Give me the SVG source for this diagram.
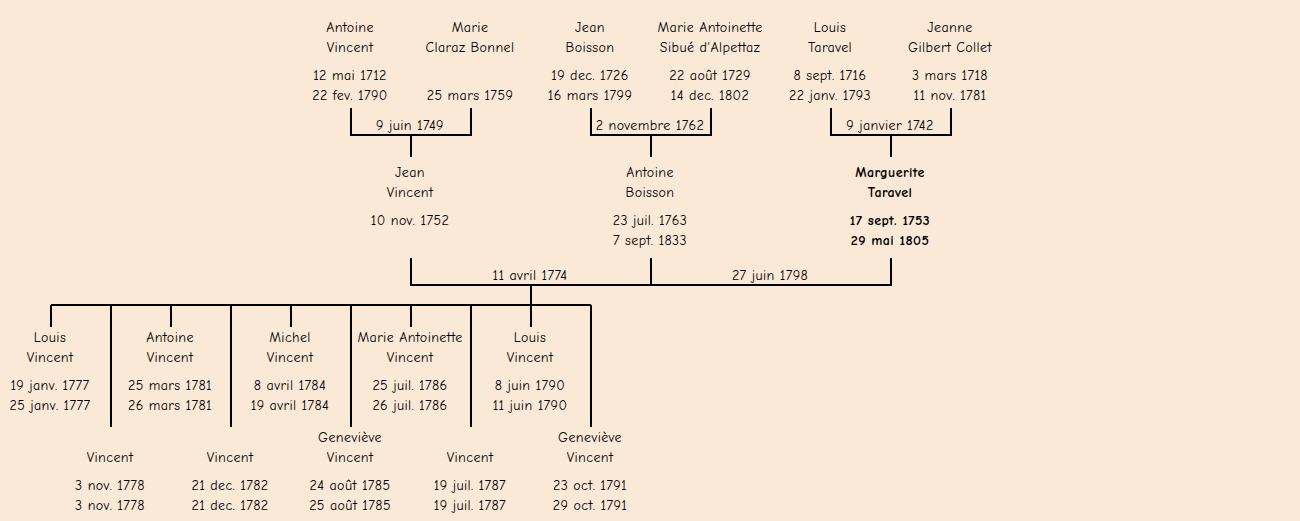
<svg xmlns="http://www.w3.org/2000/svg" width="1300" height="521" viewBox="0 0 1300 521">
<style>
text{font-family:"Comic Sans MS","Comic Neue","Liberation Sans",sans-serif;font-size:14px;letter-spacing:0.4px;fill:#000;text-anchor:middle}
.b{font-weight:bold}
.ln{fill:none;stroke:#000;stroke-width:2}
</style>
<rect width="1300" height="521" fill="#fbe9d7"/>
<g id="connectors" class="ln">
<path d="M351,108V135H471V108M411,135V157"/>
<path d="M591,108V135H711V108M651,135V157"/>
<path d="M831,108V135H951V108M891,135V157"/>
<path d="M411,258V285H891V258M651,258V285M531,285V305"/>
<path d="M51,305H591"/>
<path d="M51,305V327M171,305V327M291,305V327M411,305V327M531,305V327"/>
<path d="M111,305V427M231,305V427M351,305V427M471,305V427M591,305V427"/>
</g>
<g id="labels">
<text x="410" y="130">9 juin 1749</text>
<text x="650" y="130">2 novembre 1762</text>
<text x="890" y="130">9 janvier 1742</text>
<text x="530" y="280">11 avril 1774</text>
<text x="770" y="280">27 juin 1798</text>
</g>
<g id="antoine-vincent"><text x="350" y="32">Antoine</text><text x="350" y="52">Vincent</text><text x="350" y="80">12 mai 1712</text><text x="350" y="100">22 fev. 1790</text></g>
<g id="marie-claraz-bonnel"><text x="470" y="32">Marie</text><text x="470" y="52">Claraz Bonnel</text><text x="470" y="100">25 mars 1759</text></g>
<g id="jean-boisson"><text x="590" y="32">Jean</text><text x="590" y="52">Boisson</text><text x="590" y="80">19 dec. 1726</text><text x="590" y="100">16 mars 1799</text></g>
<g id="marie-antoinette-sibue"><text x="710" y="32">Marie Antoinette</text><text x="710" y="52">Sibué d'Alpettaz</text><text x="710" y="80">22 août 1729</text><text x="710" y="100">14 dec. 1802</text></g>
<g id="louis-taravel"><text x="830" y="32">Louis</text><text x="830" y="52">Taravel</text><text x="830" y="80">8 sept. 1716</text><text x="830" y="100">22 janv. 1793</text></g>
<g id="jeanne-gilbert-collet"><text x="950" y="32">Jeanne</text><text x="950" y="52">Gilbert Collet</text><text x="950" y="80">3 mars 1718</text><text x="950" y="100">11 nov. 1781</text></g>
<g id="jean-vincent"><text x="410" y="177">Jean</text><text x="410" y="197">Vincent</text><text x="410" y="225">10 nov. 1752</text></g>
<g id="antoine-boisson"><text x="650" y="177">Antoine</text><text x="650" y="197">Boisson</text><text x="650" y="225">23 juil. 1763</text><text x="650" y="245">7 sept. 1833</text></g>
<g id="marguerite-taravel" class="b"><text x="890" y="177" class="b">Marguerite</text><text x="890" y="197" class="b">Taravel</text><text x="890" y="225" class="b">17 sept. 1753</text><text x="890" y="245" class="b">29 mai 1805</text></g>
<g id="louis-vincent-1777"><text x="50" y="342">Louis</text><text x="50" y="362">Vincent</text><text x="50" y="390">19 janv. 1777</text><text x="50" y="410">25 janv. 1777</text></g>
<g id="vincent-1778"><text x="110" y="462">Vincent</text><text x="110" y="490">3 nov. 1778</text><text x="110" y="510">3 nov. 1778</text></g>
<g id="antoine-vincent-1781"><text x="170" y="342">Antoine</text><text x="170" y="362">Vincent</text><text x="170" y="390">25 mars 1781</text><text x="170" y="410">26 mars 1781</text></g>
<g id="vincent-1782"><text x="230" y="462">Vincent</text><text x="230" y="490">21 dec. 1782</text><text x="230" y="510">21 dec. 1782</text></g>
<g id="michel-vincent"><text x="290" y="342">Michel</text><text x="290" y="362">Vincent</text><text x="290" y="390">8 avril 1784</text><text x="290" y="410">19 avril 1784</text></g>
<g id="genevieve-vincent-1785"><text x="350" y="442">Geneviève</text><text x="350" y="462">Vincent</text><text x="350" y="490">24 août 1785</text><text x="350" y="510">25 août 1785</text></g>
<g id="marie-antoinette-vincent"><text x="410" y="342">Marie Antoinette</text><text x="410" y="362">Vincent</text><text x="410" y="390">25 juil. 1786</text><text x="410" y="410">26 juil. 1786</text></g>
<g id="vincent-1787"><text x="470" y="462">Vincent</text><text x="470" y="490">19 juil. 1787</text><text x="470" y="510">19 juil. 1787</text></g>
<g id="louis-vincent-1790"><text x="530" y="342">Louis</text><text x="530" y="362">Vincent</text><text x="530" y="390">8 juin 1790</text><text x="530" y="410">11 juin 1790</text></g>
<g id="genevieve-vincent-1791"><text x="590" y="442">Geneviève</text><text x="590" y="462">Vincent</text><text x="590" y="490">23 oct. 1791</text><text x="590" y="510">29 oct. 1791</text></g>
</svg>
